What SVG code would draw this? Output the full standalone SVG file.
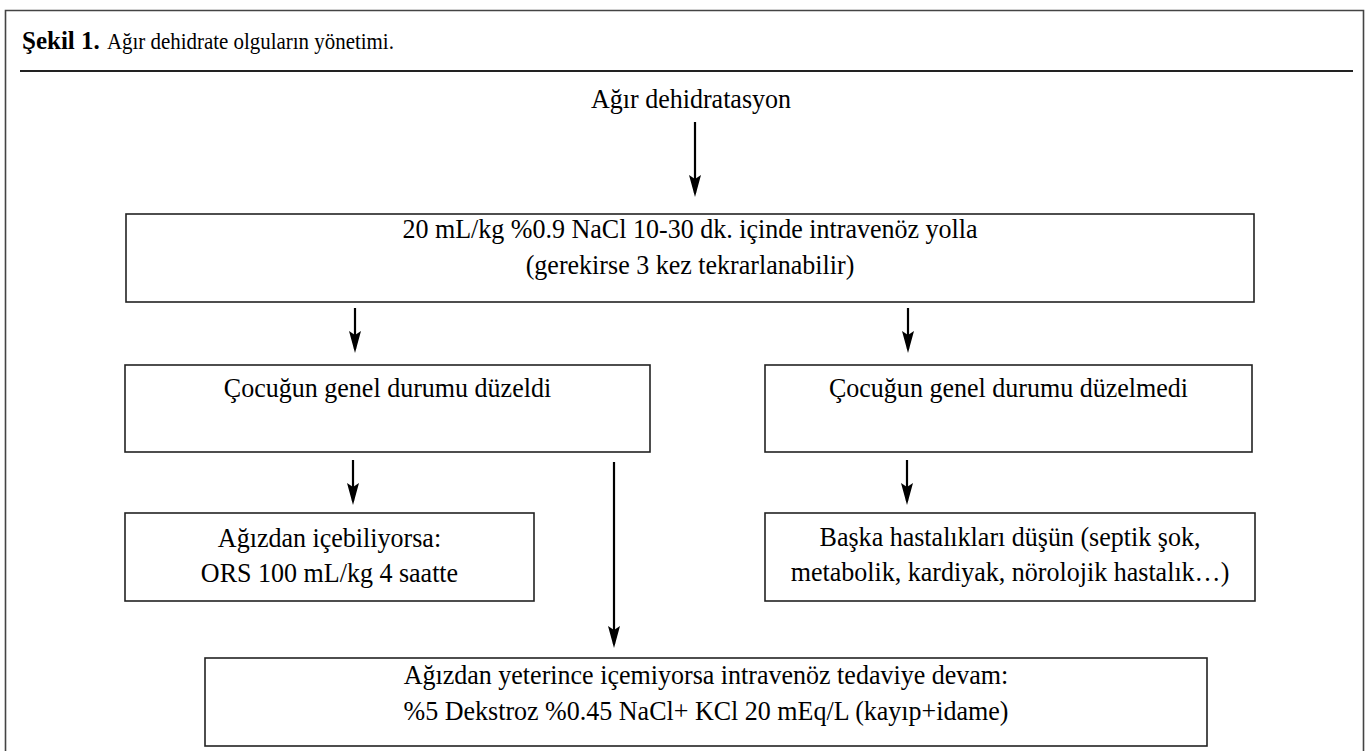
<svg xmlns="http://www.w3.org/2000/svg" width="1365" height="751" viewBox="0 0 1365 751">
<defs>
<marker id="ah" viewBox="0 0 22 12" refX="18" refY="6" markerWidth="22" markerHeight="12" markerUnits="userSpaceOnUse" orient="auto">
<path d="M0,0 L22,6 L0,12 L4,6 Z" fill="#000"/>
</marker>
<style>
text{font-family:"Liberation Serif","Times New Roman","DejaVu Serif",serif;fill:#000}
.t{font-size:28px;text-anchor:middle}
.h{font-size:25px}
.box{fill:#fff;stroke:#222;stroke-width:1.6}
.frame{fill:none;stroke:#444;stroke-width:1.6}
.ar{stroke:#000;stroke-width:2.2;fill:none}
</style>
</defs>
<rect width="1365" height="751" fill="#fff"/>
<g id="frame">
<path class="frame" d="M5.5,760 L5.5,10.5 L1363.5,10.5 L1363.5,760"/>
<line x1="20" y1="71" x2="1353" y2="71" stroke="#222" stroke-width="2"/>
<text class="h" x="22" y="49" font-weight="bold">Şekil 1.</text>
<text class="h" style="font-size:23px" transform="translate(107,49) scale(0.91,1)">Ağır dehidrate olguların yönetimi.</text>
</g>
<g id="n0"><text class="t" transform="translate(691,108) scale(0.93,1)">Ağır dehidratasyon</text></g>
<g id="n1"><rect class="box" x="126" y="214" width="1128" height="88"/>
<text class="t" transform="translate(690,238) scale(0.93,1)">20 mL/kg %0.9 NaCl 10-30 dk. içinde intravenöz yolla</text>
<text class="t" transform="translate(690,274) scale(0.93,1)">(gerekirse 3 kez tekrarlanabilir)</text></g>
<g id="n2"><rect class="box" x="125" y="365" width="525" height="87"/>
<text class="t" transform="translate(387.5,397) scale(0.93,1)">Çocuğun genel durumu düzeldi</text></g>
<g id="n3"><rect class="box" x="765" y="365" width="487" height="87"/>
<text class="t" transform="translate(1008.5,397) scale(0.93,1)">Çocuğun genel durumu düzelmedi</text></g>
<g id="n4"><rect class="box" x="125" y="513" width="409" height="88"/>
<text class="t" transform="translate(329.5,547) scale(0.93,1)">Ağızdan içebiliyorsa:</text>
<text class="t" transform="translate(329.5,582) scale(0.93,1)">ORS 100 mL/kg 4 saatte</text></g>
<g id="n5"><rect class="box" x="765" y="513" width="490" height="88"/>
<text class="t" transform="translate(1010,546) scale(0.93,1)">Başka hastalıkları düşün (septik şok,</text>
<text class="t" transform="translate(1010,581) scale(0.93,1)">metabolik, kardiyak, nörolojik hastalık…)</text></g>
<g id="n6"><rect class="box" x="205" y="658" width="1002" height="88"/>
<text class="t" transform="translate(706,684) scale(0.93,1)">Ağızdan yeterince içemiyorsa intravenöz tedaviye devam:</text>
<text class="t" transform="translate(706,720) scale(0.93,1)">%5 Dekstroz %0.45 NaCl+ KCl 20 mEq/L (kayıp+idame)</text></g>
<g id="connectors">
<line class="ar" x1="695" y1="122" x2="695" y2="193" marker-end="url(#ah)"/>
<line class="ar" x1="355" y1="308" x2="355" y2="349" marker-end="url(#ah)"/>
<line class="ar" x1="908" y1="308" x2="908" y2="349" marker-end="url(#ah)"/>
<line class="ar" x1="353" y1="460" x2="353" y2="501" marker-end="url(#ah)"/>
<line class="ar" x1="907" y1="460" x2="907" y2="501" marker-end="url(#ah)"/>
<line class="ar" x1="614" y1="462" x2="614" y2="644" marker-end="url(#ah)"/>
</g>
</svg>
